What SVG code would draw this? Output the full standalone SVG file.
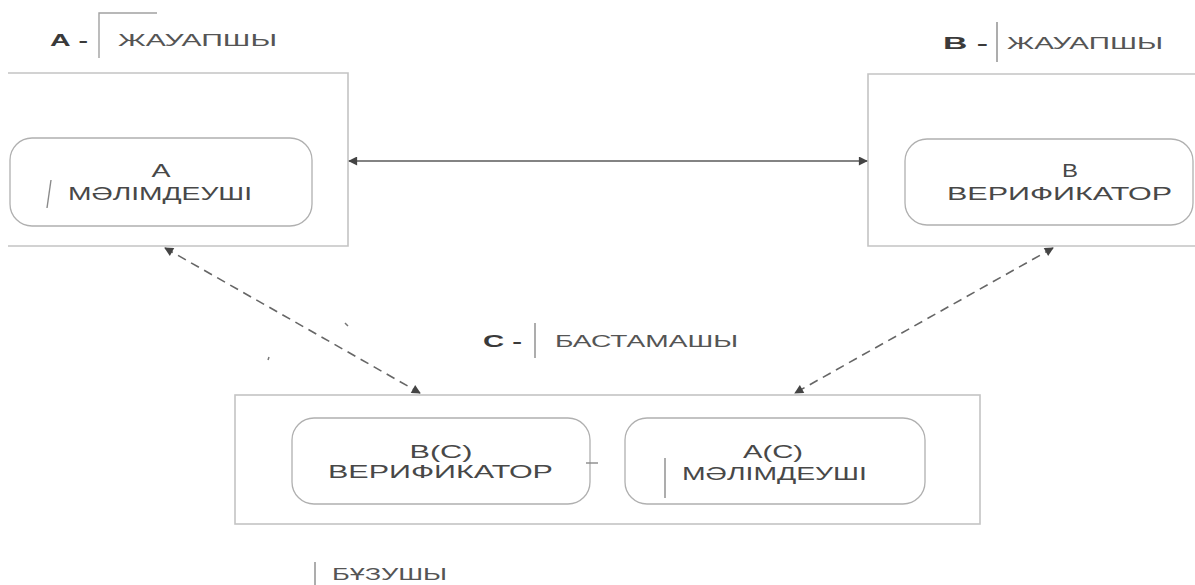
<svg xmlns="http://www.w3.org/2000/svg" width="1195" height="585" viewBox="0 0 1195 585">
  <defs>
    <marker id="head" viewBox="0 0 10 10" refX="9" refY="5" markerWidth="12" markerHeight="9" markerUnits="userSpaceOnUse" orient="auto-start-reverse">
      <path d="M0,0 L10,5 L0,10 Z" fill="#444444"/>
    </marker>
    <style>
      .frame { fill: none; stroke: #c4c4c4; stroke-width: 1.6; }
      .role { fill: #ffffff; stroke: #b0b0b0; stroke-width: 1.3; }
      .txt { font-family: "Liberation Sans", "DejaVu Sans", Arial, sans-serif; fill: #484848; font-size: 18px; }
      .lbl { font-family: "Liberation Sans", "DejaVu Sans", Arial, sans-serif; fill: #555555; font-size: 16px; }
      .key { font-family: "Liberation Sans", "DejaVu Sans", Arial, sans-serif; fill: #3a3a3a; font-size: 16px; font-weight: bold; }
      .bar { stroke: #8a8a8a; stroke-width: 1.4; fill: none; }
      .link { stroke: #5a5a5a; stroke-width: 1.3; fill: none; }
      .dash { stroke: #666666; stroke-width: 1.6; fill: none; stroke-dasharray: 9 6; }
    </style>
  </defs>
  <rect x="0" y="0" width="1195" height="585" fill="#ffffff"/>

  <!-- party A: responder -->
  <g id="party-a">
    <path class="bar" d="M99,58 L99,13 L157,13" stroke-opacity="0.8"/>
    <path class="frame" d="M8,73 L348,73 L348,246 L8,246"/>
    <rect id="a-prover" class="role" x="10" y="138" width="302" height="88" rx="22"/>
    <line class="bar" x1="51" y1="180" x2="47" y2="208"/>
    <!-- captions are set in a horizontally widened face -->
    <g transform="scale(1.6,1)">
      <text class="key" x="31.25" y="46" textLength="23.75" lengthAdjust="spacingAndGlyphs">А -</text>
      <text class="lbl" x="73.75" y="46" textLength="99.4" lengthAdjust="spacingAndGlyphs">ЖАУАПШЫ</text>
      <text class="txt" x="100.6" y="177" text-anchor="middle" textLength="11.9" lengthAdjust="spacingAndGlyphs">А</text>
      <text class="txt" x="42.5" y="200" textLength="115" lengthAdjust="spacingAndGlyphs">МӘЛІМДЕУШІ</text>
    </g>
  </g>

  <!-- party B: responder -->
  <g id="party-b">
    <line class="bar" x1="997" y1="22" x2="997" y2="62"/>
    <path class="frame" d="M1200,74 L868,74 L868,246 L1200,246"/>
    <rect id="b-verifier" class="role" x="905" y="139" width="288" height="86" rx="22"/>
    <g transform="scale(1.6,1)">
      <text class="key" x="589.4" y="49" textLength="28.1" lengthAdjust="spacingAndGlyphs">В -</text>
      <text class="lbl" x="629.4" y="49" textLength="97.5" lengthAdjust="spacingAndGlyphs">ЖАУАПШЫ</text>
      <text class="txt" x="668.75" y="177" text-anchor="middle" textLength="10" lengthAdjust="spacingAndGlyphs">В</text>
      <text class="txt" x="591.9" y="200" textLength="140.6" lengthAdjust="spacingAndGlyphs">ВЕРИФИКАТОР</text>
    </g>
  </g>

  <!-- party C: initiator -->
  <g id="party-c">
    <line class="bar" x1="535" y1="323" x2="535" y2="358"/>
    <rect class="frame" x="235" y="395" width="745" height="129"/>
    <rect id="bc-verifier" class="role" x="292" y="418" width="298" height="86" rx="22"/>
    <line class="bar" x1="586" y1="463" x2="598" y2="463" stroke-width="1"/>
    <rect id="ac-prover" class="role" x="625" y="418" width="300" height="86" rx="22"/>
    <line class="bar" x1="665" y1="458" x2="665" y2="498"/>
    <g transform="scale(1.6,1)">
      <text class="key" x="301.9" y="347" textLength="24.4" lengthAdjust="spacingAndGlyphs">С -</text>
      <text class="lbl" x="346.9" y="347" textLength="114.4" lengthAdjust="spacingAndGlyphs">БАСТАМАШЫ</text>
      <text class="txt" x="275.6" y="458" text-anchor="middle" textLength="39.4" lengthAdjust="spacingAndGlyphs">В(С)</text>
      <text class="txt" x="205" y="478" textLength="140.6" lengthAdjust="spacingAndGlyphs">ВЕРИФИКАТОР</text>
      <text class="txt" x="483.1" y="458" text-anchor="middle" textLength="37.5" lengthAdjust="spacingAndGlyphs">А(С)</text>
      <text class="txt" x="426.25" y="480" textLength="115.6" lengthAdjust="spacingAndGlyphs">МӘЛІМДЕУШІ</text>
    </g>
  </g>

  <!-- intruder -->
  <g id="intruder">
    <line class="bar" x1="315" y1="562" x2="315" y2="585"/>
    <g transform="scale(1.6,1)">
      <text class="lbl" x="207.5" y="580" textLength="71.9" lengthAdjust="spacingAndGlyphs">БҰЗУШЫ</text>
    </g>
  </g>

  <!-- connectors -->
  <g id="connectors">
    <line class="link" x1="349" y1="161" x2="867" y2="161" marker-start="url(#head)" marker-end="url(#head)"/>
    <line class="dash" x1="165" y1="248" x2="420" y2="393" marker-start="url(#head)" marker-end="url(#head)"/>
    <line class="dash" x1="1053" y1="248" x2="795" y2="393" marker-start="url(#head)" marker-end="url(#head)"/>
  </g>

  <!-- stray pen marks -->
  <g id="marks" stroke="#777777" stroke-width="1.5" fill="none">
    <line x1="345" y1="323" x2="348" y2="326"/>
    <line x1="269" y1="357" x2="268" y2="360"/>
  </g>
</svg>
